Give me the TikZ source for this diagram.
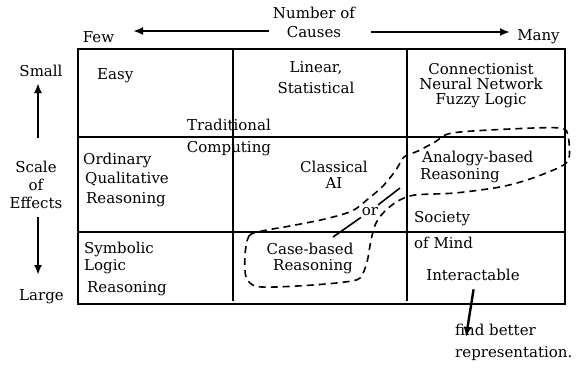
\documentclass[tikz,border=0pt]{standalone}
\usepackage{fontspec}
\setmainfont{DejaVu Serif}
\usetikzlibrary{arrows.meta}
% stacked lines with a fixed baseline distance; the node baseline is the first line's
\newcommand\stackc[2]{\vtop{\baselineskip=#1\lineskiplimit=-\maxdimen\halign{\hfil##\hfil\cr#2\crcr}}}
\newcommand\stackl[2]{\vtop{\baselineskip=#1\lineskiplimit=-\maxdimen\halign{##\hfil\cr#2\crcr}}}
\begin{document}
\begin{tikzpicture}[x=1pt,y=-1pt,
  lbl/.style={inner sep=0pt, font=\fontsize{15}{19}\selectfont, anchor=base},
  lbll/.style={lbl, anchor=base west},
  frame/.style={line width=2.2pt},
  gridline/.style={line width=1.7pt},
  arr/.style={line width=2.4pt, -{Latex[length=10pt,width=8pt]}},
  link/.style={line width=1.6pt},
  region/.style={line width=1.6pt, dash pattern=on 7pt off 5pt},
]
\useasboundingbox[fill=white] (0,0) rectangle (581,373);

% table
\draw[frame] (78,49) rectangle (565,304);
\draw[gridline] (78,137) -- (565,137);
\draw[gridline] (78,232) -- (565,232);
\draw[gridline] (233,49) -- (233,301);
\draw[gridline] (407,49) -- (407,301);

% axis labels
\node[lbl] (nc) at (314,18) {\stackc{19pt}{Number of\cr Causes}};
\node[lbl] (few) at (98.5,42) {Few};
\node[lbl] (many) at (538.5,40) {Many};
\node[lbl] (small) at (41,76) {Small};
\node[lbl] (scale) at (36,172) {\stackc{18pt}{Scale\cr of\cr Effects}};
\node[lbl] (large) at (41.5,300) {Large};

% cell contents
\node[lbll] (easy) at (97,79) {Easy};
\node[lbl] (lin) at (316,72) {\stackc{21pt}{Linear,\cr Statistical}};
\node[lbl] (conn) at (481,74) {\stackc{15pt}{Connectionist\cr Neural Network\cr Fuzzy Logic}};
\node[lbl] (trad) at (229,130) {\stackc{22pt}{Traditional\cr Computing}};
\node[lbll] (oqr) at (83,164) {\stackl{19.5pt}{Ordinary\cr \hspace{2pt}Qualitative\cr \hspace{3pt}Reasoning}};
\node[lbl] (cai) at (334,172) {\stackc{16pt}{Classical\cr AI}};
\node[lbll] (abr) at (420,162) {\stackl{17pt}{\hspace{2pt}Analogy-based\cr Reasoning}};
\node[lbl, inner sep=2pt] (or) at (370,215) {or};
\node[lbll] (som) at (414,222) {\stackl{26pt}{Society\cr of Mind}};
\node[lbl] (cbr) at (310,254) {\stackc{16pt}{Case-based\cr \hspace{6pt}Reasoning}};
\node[lbl] (intr) at (473,280) {Interactable};
\node[lbll] (slr) at (84,253) {\stackl{17pt}{Symbolic\cr Logic\cr\noalign{\vskip5pt}\hspace{3pt}Reasoning}};
\node[lbll] (fbr) at (455,335) {\stackl{22pt}{find better\cr representation.}};

% axis arrows
\coordinate (fewtip) at (133,31);
\coordinate (manytip) at (510,32);
\coordinate (upbase) at (38,138);
\coordinate (uptip) at (38,83);
\coordinate (dnbase) at (38,217);
\coordinate (dntip) at (38,275);
\draw[arr, shorten <=4pt] (nc.west |- fewtip) -- (fewtip);
\draw[arr, shorten <=16pt] (nc.east |- manytip) -- (manytip);
\draw[arr] (upbase) -- (uptip);
\draw[arr] (dnbase) -- (dntip);

% intractable case
\coordinate (fbrtip) at (466,337);
\draw[arr, shorten <=9pt] ([xshift=2pt]intr.south) -- (fbrtip);

% case-based "or" analogy-based
\coordinate (orlo) at (333,237);
\coordinate (orhi) at (400,188);
\draw[link] (orlo) -- (or) -- (orhi);

% dashed region around the two reasoning styles
\draw[region] plot[smooth cycle, tension=0.5] coordinates {
  (245,255) (249,236) (262,231) (290,226) (325,219) (352,211) (368,199)
  (383,186) (396,170) (404,157) (418,151) (435,142) (452,133) (510,129)
  (560,128) (568,136) (569,158) (560,167) (530,179) (500,187) (455,193)
  (415,195) (398,201) (385,211) (376,223) (371,240) (367,262) (360,278)
  (345,282) (313,285) (275,287) (255,286) (246,277)};
\end{tikzpicture}
\end{document}
